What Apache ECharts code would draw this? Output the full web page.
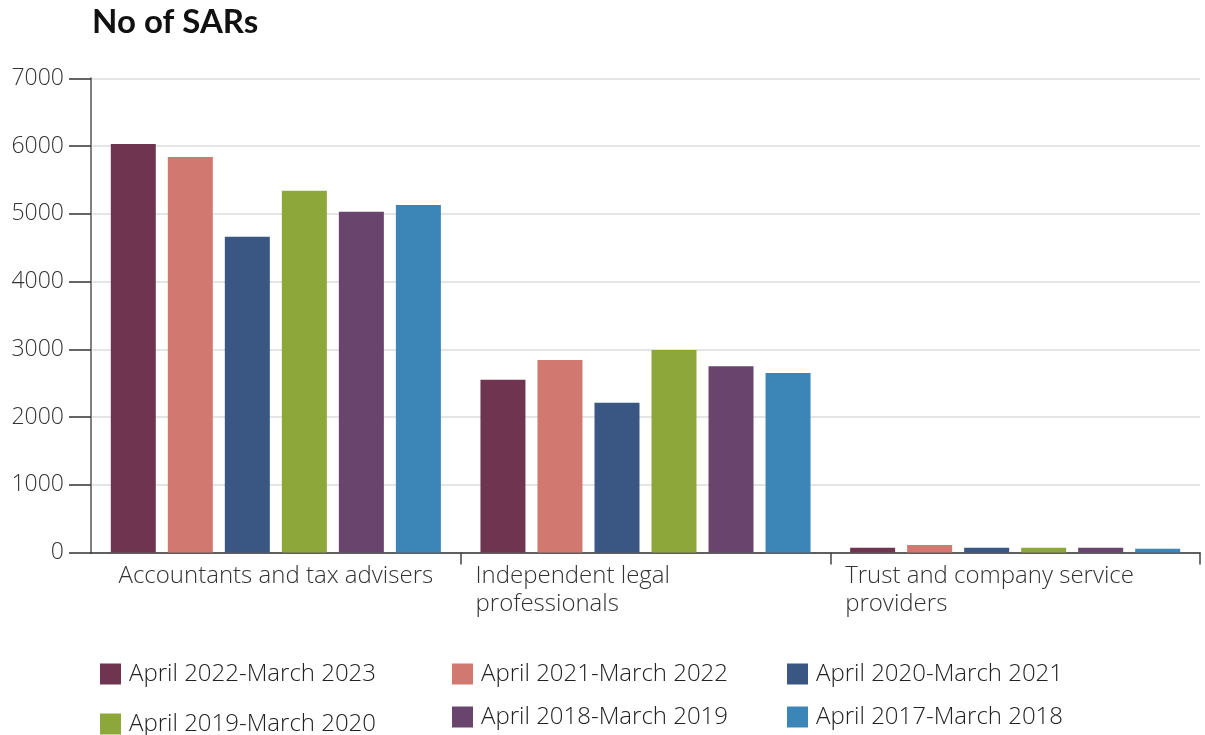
<!DOCTYPE html>
<html>
<head>
<meta charset="utf-8">
<script src="https://cdn.jsdelivr.net/npm/echarts@6/dist/echarts.min.js"></script>
<style>
html,body{margin:0;padding:0;background:#fff;}
#chart{width:1205px;height:735px;}
</style>
</head>
<body>
<div id="chart"></div>
<script>
const categories = ['Accountants and tax advisers', 'Independent legal\nprofessionals', 'Trust and company service\nproviders'];
const seriesNames = ['April 2022-March 2023', 'April 2021-March 2022', 'April 2020-March 2021', 'April 2019-March 2020', 'April 2018-March 2019', 'April 2017-March 2018'];
const s2022 = [6030, 2550, 70];
const s2021 = [5840, 2840, 110];
const s2020 = [4660, 2210, 70];
const s2019 = [5340, 2990, 70];
const s2018 = [5030, 2750, 70];
const s2017 = [5130, 2650, 55];
const yTicks = [0, 1000, 2000, 3000, 4000, 5000, 6000, 7000];
const colors = ['#6f3450', '#d17870', '#3a5783', '#8da73b', '#69446c', '#3c85b7'];

const values = [s2022, s2021, s2020, s2019, s2018, s2017];
const FONT = '"Open Sans"';
const legendPos = [
  {left: 100, top: 662}, {left: 452, top: 662}, {left: 787, top: 662},
  {left: 100, top: 712}, {left: 452, top: 705}, {left: 787, top: 705}
];

const chart = echarts.init(document.getElementById('chart'), null, {renderer: 'canvas'});
chart.setOption({
  animation: false,
  color: colors,
  title: {
    text: 'No of SARs', left: 87, top: 1,
    textStyle: {fontFamily: 'Lato', fontWeight: 'bold', fontSize: 33, color: '#111'}
  },
  legend: seriesNames.map((n, i) => ({
    data: [n], left: legendPos[i].left, top: legendPos[i].top,
    icon: 'rect', itemWidth: 21, itemHeight: 21, itemGap: 8, padding: 0,
    textStyle: {fontFamily: FONT, fontWeight: 300, fontSize: 24, color: '#222', padding: [0, 0, 0, 3]},
    selectedMode: false
  })),
  grid: {left: 91, right: 5, top: 78.3, bottom: 182.5, containLabel: false},
  xAxis: {
    type: 'category', data: categories,
    axisLine: {show: true, lineStyle: {color: '#333', width: 1.5}},
    axisTick: {show: true, length: 12, interval: (i) => i !== 0, lineStyle: {color: '#444', width: 1.5}},
    axisLabel: {
      interval: 0, margin: 10, fontFamily: FONT, fontWeight: 300, fontSize: 24, color: '#333',
      formatter: (v, i) => v.split('\n').map(l => (i === 0 ? '{c|' : '{l|') + l + '}').join('\n'),
      rich: {
        l: {width: 340, align: 'left', fontFamily: FONT, fontWeight: 300, fontSize: 24, color: '#333', lineHeight: 28},
        c: {width: 340, align: 'center', fontFamily: FONT, fontWeight: 300, fontSize: 24, color: '#333', lineHeight: 28}
      }
    }
  },
  yAxis: {
    type: 'value', min: yTicks[0], max: yTicks[yTicks.length - 1], interval: 1000,
    axisLine: {show: true, lineStyle: {color: '#808080', width: 2}},
    axisTick: {show: true, length: 22, lineStyle: {color: '#333', width: 1.5}},
    axisLabel: {margin: 27, fontFamily: FONT, fontWeight: 300, fontSize: 23, color: '#333', formatter: (v) => String(v)},
    splitLine: {show: true, lineStyle: {color: '#dcdcdc', width: 1.5}}
  },
  series: seriesNames.map((n, i) => ({
    name: n, type: 'bar', data: values[i],
    barWidth: 45, barGap: '26.7%',
    itemStyle: {color: colors[i]}
  }))
});
</script>
</body>
</html>
